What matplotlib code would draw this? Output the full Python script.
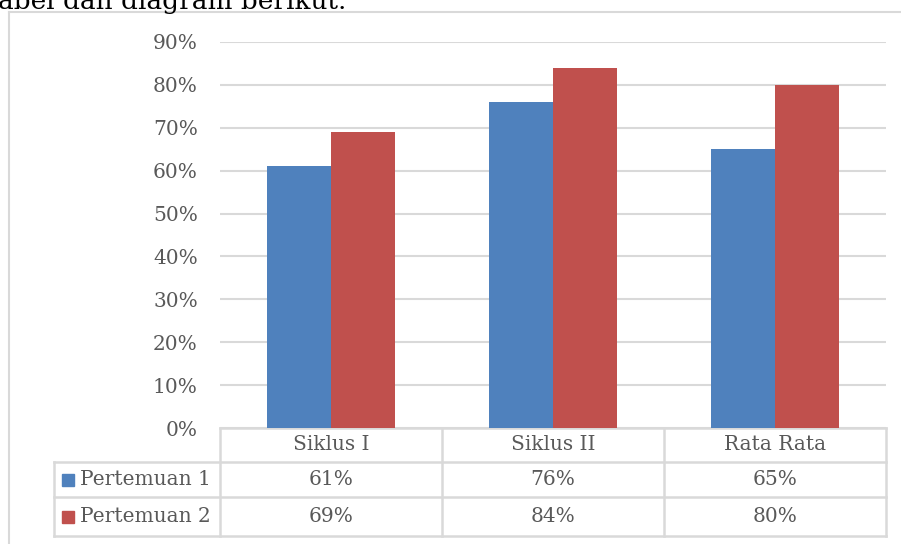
import matplotlib.pyplot as plt
from matplotlib.lines import Line2D
from matplotlib.patches import Rectangle

categories = ['Siklus I', 'Siklus II', 'Rata Rata']
series_names = ['Pertemuan 1', 'Pertemuan 2']
pertemuan_1 = [0.61, 0.76, 0.65]
pertemuan_2 = [0.69, 0.84, 0.80]
yticks = [0.0, 0.1, 0.2, 0.3, 0.4, 0.5, 0.6, 0.7, 0.8, 0.9]
colors = ['#4F81BD', '#C0504D']

W, H = 901, 544
fig = plt.figure(figsize=(W / 100, H / 100), dpi=100)
plt.rcParams['font.family'] = ['DejaVu Serif']
txt = '#595959'
grid = '#D9D9D9'
fs = 14.5

# cropped sentence above the chart
fig.text(-2 / W, 1 - 9 / H, 'abel dan diagram berikut.', fontsize=19,
         color='black', va='baseline', ha='left')

# outer chart border (left and top only visible)
fig.add_artist(Line2D([8.5 / W, 8.5 / W], [0, 1 - 12 / H], color=grid, lw=1.5))
fig.add_artist(Line2D([8.5 / W, 1], [1 - 12 / H, 1 - 12 / H], color=grid, lw=1.5))

left, right, top, bottom = 220, 886, 42, 428
ax = fig.add_axes([left / W, 1 - bottom / H, (right - left) / W, (bottom - top) / H])
ax.set_xlim(-0.5, len(categories) - 0.5)
ax.set_ylim(0, 0.9)

bw = 0.288
x = list(range(len(categories)))
ax.bar([i - bw / 2 for i in x], pertemuan_1, width=bw, color=colors[0], zorder=3)
ax.bar([i + bw / 2 for i in x], pertemuan_2, width=bw, color=colors[1], zorder=3)

ax.set_yticks(yticks)
ax.set_yticklabels([f'{int(round(v * 100))}%' for v in yticks])
ax.tick_params(axis='y', length=0, pad=16, labelsize=fs, labelcolor=txt)
ax.set_xticks([])
ax.grid(axis='y', color=grid, lw=1.5, zorder=0)
for s in ax.spines.values():
    s.set_visible(False)

# data table below the plot, in pixel offsets from the axes bottom
ph = bottom - top
rows_px = [0, 34, 69, 108]
rows = [-r / ph for r in rows_px]
lab_left = (54 - left) / (right - left)
tkw = dict(transform=ax.transAxes, color=grid, lw=1.8, clip_on=False)

ax.add_line(Line2D([0, 1], [rows[0], rows[0]], **tkw))
for r in rows[1:]:
    ax.add_line(Line2D([lab_left, 1], [r, r], **tkw))
for c in range(len(categories) + 1):
    xc = c / len(categories)
    ax.add_line(Line2D([xc, xc], [rows[0], rows[3]], **tkw))
ax.add_line(Line2D([lab_left, lab_left], [rows[1], rows[3]], **tkw))

for i, cat in enumerate(categories):
    ax.text((i + 0.5) / 3, (rows[0] + rows[1]) / 2, cat, transform=ax.transAxes,
            ha='center', va='center', fontsize=fs, color=txt)
for j, vals in enumerate([pertemuan_1, pertemuan_2]):
    yc = (rows[j + 1] + rows[j + 2]) / 2
    for i, v in enumerate(vals):
        ax.text((i + 0.5) / 3, yc, f'{int(round(v * 100))}%', transform=ax.transAxes,
                ha='center', va='center', fontsize=fs, color=txt)
    sq = 12 / (right - left)
    sqh = 12 / ph
    ax.add_patch(Rectangle(((62 - left) / (right - left), yc - sqh / 2), sq, sqh,
                           transform=ax.transAxes, color=colors[j], clip_on=False))
    ax.text((80 - left) / (right - left), yc, series_names[j], transform=ax.transAxes,
            ha='left', va='center', fontsize=fs, color=txt)

fig.savefig('out.png', dpi=100)
